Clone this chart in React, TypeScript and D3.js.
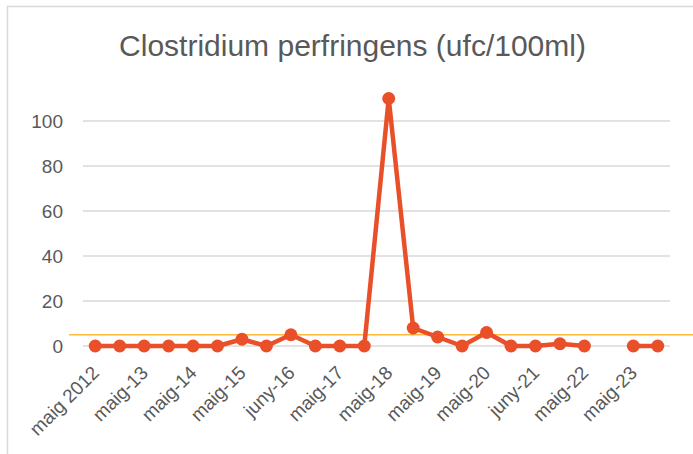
import React, { useEffect, useRef } from "react";
import * as d3 from "d3";

const width = 693;
const height = 454;
const margin = { top: 76, right: 23, bottom: 108, left: 83 };

// one entry per sample, null = no measurement
const values: (number | null)[] = [
  0, 0, 0, 0, 0, 0, 3, 0, 5, 0, 0, 0,
  110, 8, 4, 0, 6, 0, 0, 1, 0, null, 0, 0,
];
// only every other sample gets a visible label
const tickLabels = [
  "maig 2012", "maig-13", "maig-14", "maig-15", "juny-16", "maig-17",
  "maig-18", "maig-19", "maig-20", "juny-21", "maig-22", "maig-23",
];
const yTicks = [0, 20, 40, 60, 80, 100];
const limitValue = 5;

const title = "Clostridium perfringens (ufc/100ml)";

export default function App() {
  const ref = useRef<SVGSVGElement>(null);

  useEffect(() => {
    const svg = d3.select(ref.current);
    svg.selectAll("*").remove();

    const font = "'Liberation Sans', Arial, sans-serif";
    const textColor = "#595959";

    // chart frame
    svg.append("rect")
      .attr("x", 7.5)
      .attr("y", 6.5)
      .attr("width", width + 20)
      .attr("height", height + 20)
      .attr("fill", "#fff")
      .attr("stroke", "#d9d9d9")
      .attr("stroke-width", 1.5);

    svg.append("text")
      .attr("x", 352.5)
      .attr("y", 56)
      .attr("text-anchor", "middle")
      .style("font-family", font)
      .style("font-size", "30px")
      .attr("fill", textColor)
      .text(title);

    const x = d3.scaleBand<number>()
      .domain(values.map((_, i) => i))
      .range([margin.left, width - margin.right]);
    const cx = (i: number) => (x(i) as number) + x.bandwidth() / 2;

    const y = d3.scaleLinear()
      .domain([0, 120])
      .range([height - margin.bottom, margin.top]);

    // gridlines
    svg.append("g")
      .selectAll("line")
      .data(yTicks)
      .join("line")
      .attr("x1", margin.left)
      .attr("x2", width - margin.right)
      .attr("y1", d => y(d))
      .attr("y2", d => y(d))
      .attr("stroke", "#d9d9d9")
      .attr("stroke-width", 1.3);

    svg.append("g")
      .selectAll("text")
      .data(yTicks)
      .join("text")
      .attr("x", 63)
      .attr("y", d => y(d))
      .attr("dy", "0.35em")
      .attr("text-anchor", "end")
      .style("font-family", font)
      .style("font-size", "19px")
      .attr("fill", textColor)
      .text(d => d);

    // x labels, rotated
    svg.append("g")
      .selectAll("text")
      .data(tickLabels)
      .join("text")
      .attr("text-anchor", "end")
      .attr("transform", (d, i) => "translate(" + (cx(i * 2) + 5) + "," + (y(0) + 28) + ")rotate(-45)")
      .style("font-family", font)
      .style("font-size", "19px")
      .attr("fill", textColor)
      .text(d => d);

    // limit line
    svg.append("line")
      .attr("x1", 69)
      .attr("x2", width)
      .attr("y1", y(limitValue))
      .attr("y2", y(limitValue))
      .attr("stroke", "#ffb83a")
      .attr("stroke-width", 1.5);

    const line = d3.line<number | null>()
      .defined(d => d !== null)
      .x((d, i) => cx(i))
      .y(d => y(d as number));

    svg.append("path")
      .datum(values)
      .attr("fill", "none")
      .attr("stroke", "#e9502a")
      .attr("stroke-width", 4.5)
      .attr("stroke-linejoin", "round")
      .attr("d", line);

    svg.append("g")
      .selectAll("circle")
      .data(values.map((v, i) => ({ v, i })).filter(d => d.v !== null))
      .join("circle")
      .attr("cx", d => cx(d.i))
      .attr("cy", d => y(d.v as number))
      .attr("r", 6.5)
      .attr("fill", "#e9502a");
  }, []);

  return (
    <svg
      ref={ref}
      width={width}
      height={height}
      style={{ position: "absolute", left: 0, top: 0 }}
    />
  );
}
